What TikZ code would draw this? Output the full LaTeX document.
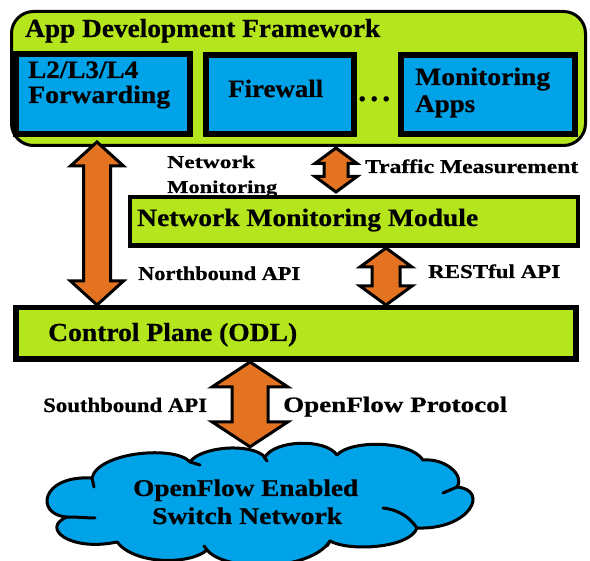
\documentclass[tikz,border=0pt]{standalone}
\usepackage{fontspec}
\setmainfont{Liberation Serif}[BoldFeatures={FakeBold=0.6}]
\usepackage{graphicx}
\usetikzlibrary{calc}
\definecolor{limeg}{RGB}{181,230,29}
\definecolor{skyb}{RGB}{0,162,232}
\definecolor{orng}{RGB}{227,115,32}
\newcommand\sw[2]{\resizebox{#1pt}{\height}{#2}}
% fat double arrow: #1 top tip, #2 bottom tip, #3 head half width, #4 shaft half width, #5 head length
\newcommand\fatarr[5]{%
  \draw[fatarrow] (#1) -- ($(#1)+(#3,#5)$) -- ($(#1)+(#4,#5)$) -- ($(#2)+(#4,-#5)$)
    -- ($(#2)+(#3,-#5)$) -- (#2) -- ($(#2)+(-#3,-#5)$) -- ($(#2)+(-#4,-#5)$)
    -- ($(#1)+(-#4,#5)$) -- ($(#1)+(-#3,#5)$) -- cycle;}
\begin{document}
\begin{tikzpicture}[x=1pt,y=-1pt,
  lbl/.style={anchor=base west, inner sep=0pt, font=\bfseries\fontsize{#1}{#1}\selectfont},
  bluebox/.style={draw=black, fill=skyb, line width=6pt, inner sep=0pt},
  greenbox/.style={draw=black, fill=limeg, inner sep=0pt},
  fatarrow/.style={draw=black, fill=orng, line width=3pt, line join=miter},
  cloudline/.style={draw=black, line width=3pt, line cap=round, line join=round}]
\useasboundingbox (0,0) rectangle (590,561);
\fill[white] (0,0) rectangle (590,561);

% framework
\node[greenbox, line width=3pt, rounded corners=22pt, minimum width=574, minimum height=134] (frame) at (298.5,78.5) {};
\node[lbl=26] (title) at (25,37) {\sw{355}{App Development Framework}};

\node[bluebox, minimum width=174, minimum height=80] (fwd) at (103,94) {};
\node[bluebox, minimum width=148, minimum height=79] (fw) at (280,94.5) {};
\node[bluebox, minimum width=174, minimum height=79] (mon) at (488,94.5) {};

\node[lbl=25] (t1) at (28,78) {\sw{110}{L2/L3/L4}};
\node[lbl=25] (t2) at (28,103) {\sw{142}{Forwarding}};
\node[lbl=25] (t3) at (228,97) {\sw{95}{Firewall}};
\node[lbl=32] (dots) at (358,101) {.\kern4pt.\kern4pt.};
\node[lbl=25] (t4) at (415,85) {\sw{135}{Monitoring}};
\node[lbl=25] (t5) at (415,112) {\sw{60}{Apps}};

% labels
\node[lbl=18] (nm1) at (167,168) {\sw{88}{Network}};
\node[lbl=18] (nm2) at (167,193) {\sw{110}{Monitoring}};
\node[lbl=19.5] (tm) at (365,173) {\sw{213}{Traffic Measurement}};

% network monitoring module
\node[greenbox, line width=4.5pt, minimum width=448, minimum height=48.5] (nmm) at (354,221.5) {};
\node[lbl=25] (nmmt) at (137,226) {\sw{341}{Network Monitoring Module}};

\node[lbl=19.5] (nb) at (138,280) {\sw{162}{Northbound API}};
\node[lbl=19.5] (rest) at (428,278) {\sw{132}{RESTful API}};

% control plane
\node[greenbox, line width=5.5pt, minimum width=560, minimum height=51.5] (ctl) at (296,333.5) {};
\node[lbl=26] (ctlt) at (48,341) {\sw{249}{Control Plane (ODL)}};

\node[lbl=20.5] (sb) at (43,412) {\sw{164}{Southbound API}};
\node[lbl=22] (ofp) at (283,412) {\sw{224}{OpenFlow Protocol}};

% cloud
\node[inner sep=0pt, minimum width=422, minimum height=118] (cloud) at (259,506) {};
\draw[cloudline, fill=skyb]
  (92,478) .. controls (98,452) and (175,445) .. (190,462)
  .. controls (200,447) and (250,442) .. (265,457)
  .. controls (275,440) and (325,438) .. (337,455)
  .. controls (350,440) and (410,440) .. (423,460)
  .. controls (445,458) and (465,475) .. (457,487)
  .. controls (490,490) and (470,530) .. (417,528)
  .. controls (410,548) and (350,552) .. (330,541)
  .. controls (310,572) and (225,572) .. (207,550)
  .. controls (190,565) and (135,565) .. (117,542)
  .. controls (70,552) and (40,528) .. (67,517)
  .. controls (35,515) and (40,475) .. cycle;
\draw[cloudline] (92,478) -- (94,487);
\draw[cloudline] (190,462) -- (200,465);
\draw[cloudline] (264,457) -- (267,461);
\draw[cloudline] (443,493) -- (457,487);
\draw[cloudline] (383,508) .. controls (400,510) and (410,518) .. (417,528);
\draw[cloudline] (330,541) -- (327,546);
\draw[cloudline] (207,550) -- (204,546);
\draw[cloudline] (67,517) .. controls (78,517) and (88,518) .. (95,518);
\node[lbl=24] (c1) at (133,496) {\sw{225}{OpenFlow Enabled}};
\node[lbl=24] (c2) at (152,524) {\sw{190}{Switch Network}};

% arrows
\fatarr{$(97,0 |- frame.south)+(0,-5)$}{97,0 |- ctl.north}{26.5}{13.5}{24}
\fatarr{$(336,0 |- frame.south)+(0,1)$}{$(336,0 |- nmm.north)+(0,-3)$}{21}{12}{15.5}
\fatarr{386,0 |- nmm.south}{386,0 |- ctl.north}{26}{14}{19}
\fatarr{250,0 |- ctl.south}{250,0 |- cloud.north}{38}{18}{25}
\end{tikzpicture}
\end{document}
